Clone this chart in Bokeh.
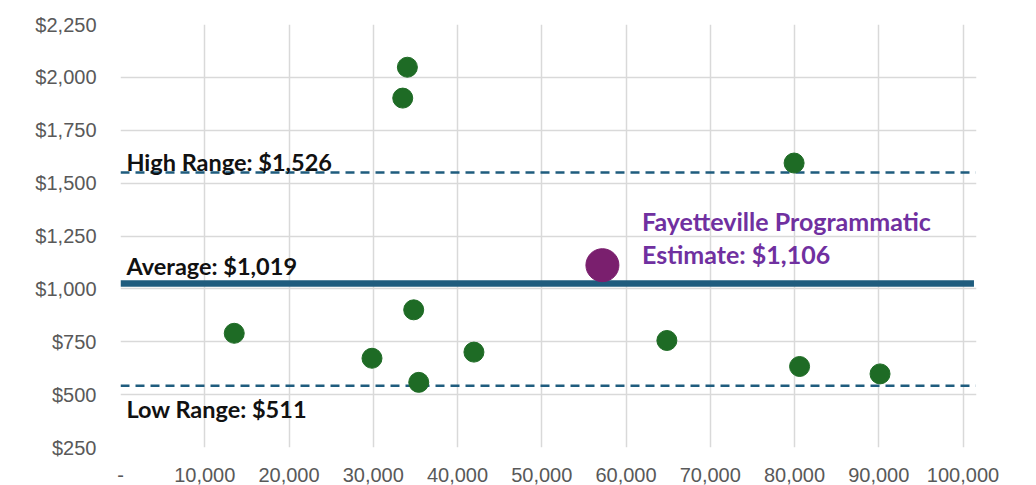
from bokeh.plotting import figure
from bokeh.models import ColumnDataSource, Label, FixedTicker, Range1d
from bokeh.embed import file_html
from bokeh.resources import INLINE

# ---- data ----
pop = [13500, 29850, 33500, 34050, 34800, 35400, 41950, 64850, 79950, 80600, 90150]
cost = [790, 672, 1902, 2048, 901, 558, 701, 756, 1595, 633, 598]

fay_pop = [57200]
fay_cost = [1112]

high_line = 1550
avg_line = 1025
low_line = 542
line_x = [0, 101500]

high_text = "High Range: $1,526"
avg_text = "Average: $1,019"
low_text = "Low Range: $511"
fay_text = ["Fayetteville Programmatic", "Estimate: $1,106"]

x_ticks = [0, 10000, 20000, 30000, 40000, 50000, 60000, 70000, 80000, 90000, 100000]
x_labels = ["-", "10,000", "20,000", "30,000", "40,000", "50,000", "60,000",
            "70,000", "80,000", "90,000", "100,000"]
y_ticks = [250, 500, 750, 1000, 1250, 1500, 1750, 2000, 2250]
y_labels = ["$250", "$500", "$750", "$1,000", "$1,250", "$1,500", "$1,750", "$2,000", "$2,250"]

# ---- figure ----
p = figure(width=1036, height=485, output_backend="svg", toolbar_location=None,
           x_range=Range1d(0, 101600), y_range=Range1d(250, 2250),
           min_border_left=120, min_border_right=60, min_border_top=24, min_border_bottom=38)
p.outline_line_color = None
p.background_fill_color = "white"
p.border_fill_color = "white"

for ax in (p.xaxis, p.yaxis):
    ax.axis_line_color = None
    ax.major_tick_line_color = None
    ax.minor_tick_line_color = None
    ax.major_label_text_font = "Liberation Sans"
    ax.major_label_text_font_size = "20px"
    ax.major_label_text_color = "#595959"

p.xaxis.ticker = FixedTicker(ticks=x_ticks)
p.yaxis.ticker = FixedTicker(ticks=y_ticks)
p.xaxis.major_label_overrides = {t: l for t, l in zip(x_ticks, x_labels)}
p.yaxis.major_label_overrides = {t: l for t, l in zip(y_ticks, y_labels)}
p.xaxis.major_label_standoff = 14
p.yaxis.major_label_standoff = 18

p.xgrid.grid_line_color = "#d9d9d9"
p.ygrid.grid_line_color = "#d9d9d9"
p.xgrid.grid_line_width = 1.5
p.ygrid.grid_line_width = 1.5

line_color = "#1F5C7E"
p.line(line_x, [high_line, high_line], line_color=line_color, line_width=2.5, line_dash="9 6")
p.line(line_x, [low_line, low_line], line_color=line_color, line_width=2.5, line_dash="9 6")
p.line([line_x[0], 101300], [avg_line, avg_line], line_color=line_color, line_width=6.5)

src = ColumnDataSource(dict(x=pop, y=cost))
p.scatter("x", "y", source=src, size=20, fill_color="#1E6B25", line_color="#1E6B25")
p.scatter(fay_pop, fay_cost, size=33, fill_color="#7A1F6E", line_color="#7A1F6E")

def lab(x, y, text, color="#111111", size="23.5px"):
    p.add_layout(Label(x=x, y=y, text=text, text_font="Lato", text_font_style="bold",
                       text_font_size=size, text_color=color, text_baseline="alphabetic",
                       text_align="left"))

lab(700, 1602, high_text)
lab(700, 1110, avg_text)
lab(700, 430, low_text)
lab(61900, 1322, fay_text[0], "#7030A0", "25px")
lab(61900, 1166, fay_text[1], "#7030A0", "25px")

open("out.html", "w").write(file_html(p, INLINE))
